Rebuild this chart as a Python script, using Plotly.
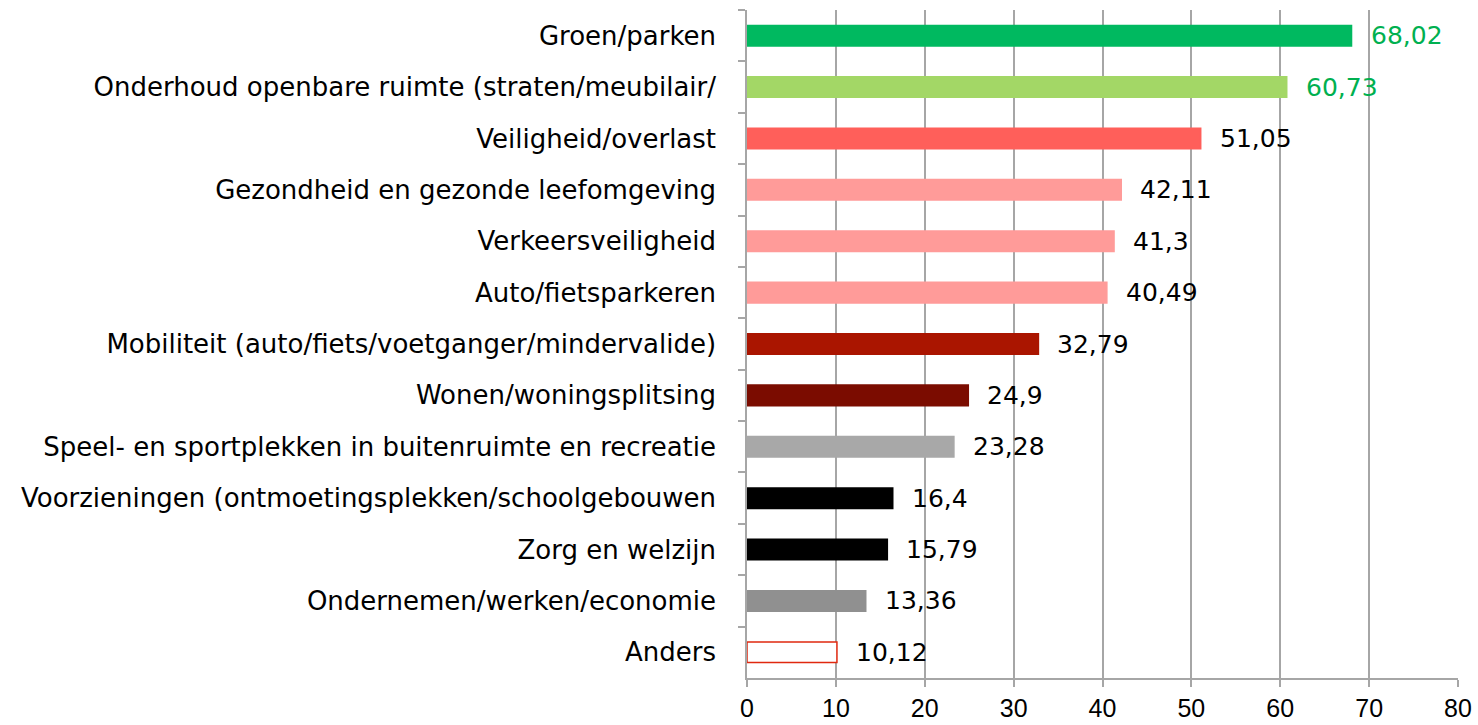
import plotly.graph_objects as go

categories = [
    "Groen/parken",
    "Onderhoud openbare ruimte (straten/meubilair/",
    "Veiligheid/overlast",
    "Gezondheid en gezonde leefomgeving",
    "Verkeersveiligheid",
    "Auto/fietsparkeren",
    "Mobiliteit (auto/fiets/voetganger/mindervalide)",
    "Wonen/woningsplitsing",
    "Speel- en sportplekken in buitenruimte en recreatie",
    "Voorzieningen (ontmoetingsplekken/schoolgebouwen",
    "Zorg en welzijn",
    "Ondernemen/werken/economie",
    "Anders",
]
values = [68.02, 60.73, 51.05, 42.11, 41.3, 40.49, 32.79, 24.9, 23.28, 16.4, 15.79, 13.36, 10.12]
labels = ["68,02", "60,73", "51,05", "42,11", "41,3", "40,49", "32,79", "24,9", "23,28", "16,4", "15,79", "13,36", "10,12"]
bar_colors = ["#00B960", "#A3D766", "#FF5F5A", "#FF9B99", "#FF9B99", "#FF9B99", "#AA1500",
              "#7B0C00", "#A8A8A8", "#000000", "#000000", "#909090", "#FFFFFF"]
line_colors = ["#00B960", "#A3D766", "#FF5F5A", "#FF9B99", "#FF9B99", "#FF9B99", "#AA1500",
               "#7B0C00", "#A8A8A8", "#000000", "#000000", "#909090", "#E0280F"]
label_colors = ["#00B050", "#00B050"] + ["#000000"] * 11

FONT = "DejaVu Sans"
TICKFONT = "Liberation Sans Narrow, Liberation Sans, sans-serif"

fig = go.Figure()
fig.add_trace(go.Bar(
    x=values, y=categories, orientation="h", width=0.4,
    marker=dict(color=bar_colors, line=dict(color=line_colors, width=1.5)),
    hoverinfo="skip", showlegend=False,
))

for v, c, t, col in zip(values, categories, labels, label_colors):
    fig.add_annotation(x=v, y=c, text=t, showarrow=False, xanchor="left",
                       xshift=17, font=dict(family=FONT, size=25, color=col))

fig.update_layout(
    width=1478, height=725,
    margin=dict(l=747, r=20, t=10, b=47, autoexpand=False),
    paper_bgcolor="white", plot_bgcolor="white",
    font=dict(family=FONT, size=25, color="black"),
)
fig.update_xaxes(
    range=[0, 80], dtick=10, tick0=0,
    showgrid=True, gridcolor="#A6A6A6", gridwidth=1.5,
    showline=True, linecolor="#A6A6A6", linewidth=1.5,
    ticks="outside", ticklen=7, tickcolor="#A6A6A6", tickwidth=1.5,
    tickfont=dict(family=TICKFONT, size=25, color="black"),
    ticklabelstandoff=0,
    zeroline=False, fixedrange=True,
)
fig.update_yaxes(
    categoryorder="array", categoryarray=categories, autorange="reversed",
    showgrid=False, showline=True, linecolor="#A6A6A6", linewidth=1.5,
    ticks="outside", ticklen=7, tickcolor="#A6A6A6", tickwidth=1.5,
    tickson="boundaries",
    tickfont=dict(family=FONT, size=26, color="black"),
    ticklabelstandoff=24, fixedrange=True,
)

fig.write_html(
    "out.html",
    config={"displayModeBar": False},
    post_script="document.body.style.margin='0px';document.body.style.overflow='hidden';",
)
